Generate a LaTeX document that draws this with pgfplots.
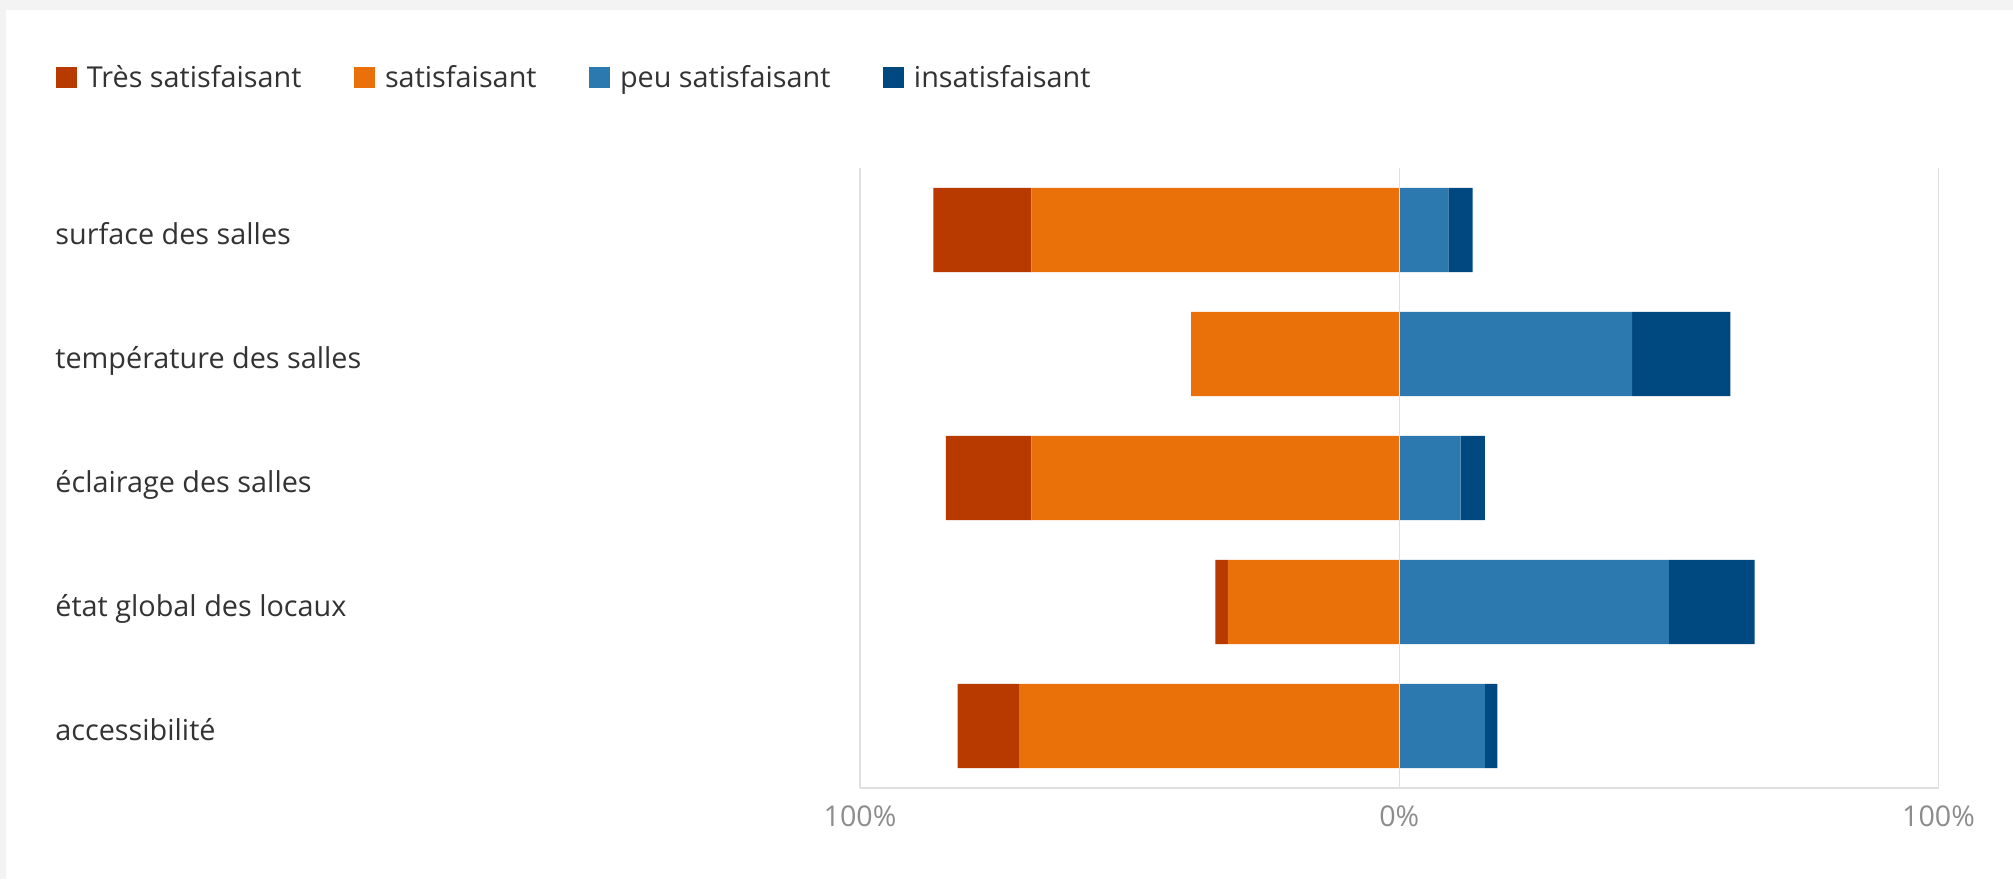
\documentclass[border=0pt]{standalone}
\usepackage{pgfplots}
\pgfplotsset{compat=1.18}
\usepackage{pgfplotstable}
\usepackage{fontspec}
\setmainfont{Open Sans}

\definecolor{tres}{RGB}{184,58,0}
\definecolor{satisf}{RGB}{234,112,10}
\definecolor{peu}{RGB}{44,121,176}
\definecolor{insat}{RGB}{0,72,128}
\definecolor{gridgray}{RGB}{224,224,224}
\definecolor{ticktext}{RGB}{140,140,140}
\definecolor{labeltext}{RGB}{51,51,51}
\definecolor{bggray}{RGB}{243,243,243}

% negative side (satisfaisant, tres satisfaisant), in percent
\pgfplotstableread{
y satisf tres
0 -68.2 -18.2
1 -38.6  0.0
2 -68.2 -15.9
3 -31.8 -2.3
4 -70.5 -11.4
}\neg
% positive side (peu satisfaisant, insatisfaisant)
\pgfplotstableread{
y peu insat
0  9.1  4.5
1 43.2 18.2
2 11.4  4.5
3 50.0 15.9
4 15.9  2.3
}\pos

\pgfplotsset{
  common/.style={
    scale only axis,
    width=539.25pt, height=310pt,
    at={(430pt,45.5pt)}, anchor=south west,
    xmin=-100, xmax=100,
    ymin=-0.5, ymax=4.5,
    y dir=reverse,
    xbar stacked,
    bar width=0.68,
  },
}

\begin{document}
\begin{tikzpicture}
\fill[bggray] (0,0) rectangle (1006.5pt,439.5pt);
\fill[white] (3pt,0) rectangle (1006.5pt,434.5pt);

\begin{axis}[common, hide axis]
  \addplot[fill=satisf, draw=none] table[x=satisf, y=y] {\neg};
  \addplot[fill=tres, draw=none] table[x=tres, y=y] {\neg};
\end{axis}

\begin{axis}[common,
  axis on top,
  axis x line=bottom,
  axis y line=left,
  axis line style={-, draw=gridgray, line width=0.75pt},
  y axis line style={draw=none},
  xmajorgrids,
  grid style={draw=gridgray, line width=0.75pt},
  major tick length=0pt,
  xtick={-100,0,100},
  xticklabels={100\%,0\%,100\%},
  ytick={0,1,2,3,4},
  yticklabels={surface des salles,température des salles,éclairage des salles,état global des locaux,accessibilité},
  /pgf/number format/assume math mode=true,
  xticklabel style={font=\fontsize{14.3}{16}\selectfont, text=ticktext, yshift=-5.2pt},
  yticklabel style={font=\fontsize{14.4}{16}\selectfont, text=labeltext,
    anchor=base west, inner sep=0pt, xshift=-402.5pt, yshift=-7pt},
  legend columns=4,
  legend image code/.code={\fill[#1] (0pt,-5.25pt) rectangle (10.5pt,5.25pt);},
  legend style={draw=none, fill=none, inner sep=0pt, outer sep=0pt,
    at={(-0.7459,1.146)}, anchor=west,
    font=\fontsize{14.4}{16}\selectfont, text=labeltext,
    nodes={inner sep=0pt},
    /tikz/every odd column/.append style={column sep=5.2pt},
    /tikz/every even column/.append style={column sep=26pt}},
]
  \addlegendimage{fill=tres, draw=none}
  \addlegendentry{Très satisfaisant}
  \addlegendimage{fill=satisf, draw=none}
  \addlegendentry{satisfaisant}
  \addplot[fill=peu, draw=none] table[x=peu, y=y] {\pos};
  \addlegendentry{peu satisfaisant}
  \addplot[fill=insat, draw=none] table[x=insat, y=y] {\pos};
  \addlegendentry{insatisfaisant}
\end{axis}
\end{tikzpicture}
\end{document}
